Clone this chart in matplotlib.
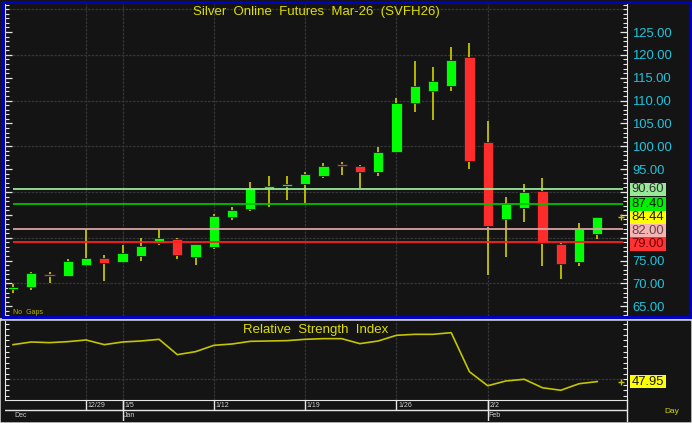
import numpy as np
import matplotlib.pyplot as plt
from matplotlib.patches import Rectangle
from matplotlib.ticker import MultipleLocator, FixedLocator, FuncFormatter

plt.rcParams['font.family'] = ['Liberation Sans', 'DejaVu Sans']

# session dates (one candle each)
dates = ["12/22", "12/23", "12/24", "12/26", "12/29", "12/31",
         "1/5", "1/6", "1/7", "1/8", "1/9",
         "1/12", "1/13", "1/14", "1/15", "1/16",
         "1/19", "1/20", "1/21", "1/22", "1/23",
         "1/26", "1/27", "1/28", "1/29", "1/30",
         "2/2", "2/3", "2/4", "2/5", "2/6",
         "2/9", "2/10"]
month_names = {12: "Dec", 1: "Jan", 2: "Feb"}
week_ticks = ["12/29", "1/5", "1/12", "1/19", "1/26", "2/2"]

opens = [68.7, 69.3, 72.1, 71.7, 74.1, 75.5, 74.7, 75.9, 78.8, 79.65, 75.8,
         78.0, 84.5, 86.3, 90.6, 91.4, 91.7, 93.5, 96.1, 95.6, 94.3,
         98.8, 109.5, 112.0, 113.2, 119.5, 101.0, 84.1, 86.5, 90.2, 78.6,
         74.7, 80.75]
highs = [69.8, 72.6, 72.5, 75.3, 81.9, 76.3, 78.4, 79.9, 82.0, 80.0, 78.7,
         85.2, 86.7, 92.3, 93.6, 93.5, 94.4, 96.3, 96.6, 96.0, 99.85,
         110.6, 118.7, 117.3, 121.8, 122.6, 105.6, 89.0, 91.75, 93.1, 78.8,
         83.3, 84.6]
lows = [68.0, 68.5, 70.1, 71.6, 73.8, 70.5, 74.5, 74.8, 78.5, 75.4, 74.0,
        77.5, 83.9, 85.8, 86.8, 88.25, 87.5, 93.1, 93.7, 90.9, 93.4,
        98.5, 107.4, 105.8, 112.2, 95.0, 71.9, 75.8, 83.5, 73.9, 70.9,
        73.9, 79.7]
closes = [69.2, 72.3, 71.6, 74.9, 75.5, 74.5, 76.6, 78.25, 79.9, 76.3, 78.6,
          84.7, 86.1, 90.8, 91.25, 91.7, 93.9, 95.8, 95.7, 94.3, 98.7,
          109.5, 113.2, 114.2, 118.9, 96.85, 82.5, 87.3, 90.0, 78.8, 74.3,
          81.9, 84.44]
rsi = [81.2, 83.6, 83.0, 83.9, 85.4, 81.2, 83.6, 84.5, 86.0, 72.2, 74.9,
       80.6, 81.8, 84.2, 84.5, 84.8, 86.0, 86.6, 86.6, 82.1, 84.5,
       89.6, 90.5, 90.5, 92.0, 56.8, 44.2, 48.5, 50.0, 42.4, 40.1,
       46.0, 47.95]

levels = [90.60, 87.40, 82.00, 79.00]
level_line_colors = ['#98e898', '#00c000', '#d8a4a4', '#ff2020']
level_box_colors = ['#98e898', '#00f000', '#f6b4b4', '#ff3333']
level_text_colors = ['#303030', '#002000', '#604848', '#700000']
price_ticks = [65, 70, 75, 80, 85, 90, 95, 100, 105, 110, 115, 120, 125]

W, H = 692, 423
BG = '#141414'
WICK = '#c4c400'


def px_box(x0, y0, x1, y1):
    return [x0 / W, 1 - y1 / H, (x1 - x0) / W, (y1 - y0) / H]


x = np.arange(len(dates))
week_idx = [dates.index(d) for d in week_ticks]
months = [int(d.split('/')[0]) for d in dates]
month_idx = [i for i in range(len(months)) if i == 0 or months[i] != months[i - 1]]
xlim = (-0.44, 33.63)

fig = plt.figure(figsize=(W / 100, H / 100), dpi=100, facecolor='#d0d0d0')
fig.add_artist(Rectangle((0, 1 - 317 / H), 1, 317 / H, transform=fig.transFigure,
                         color=BG, zorder=-2))
fig.add_artist(Rectangle((1 / W, 2 / H), 689 / W, (421 - 321) / H,
                         transform=fig.transFigure, color=BG, zorder=-2))

# ---------------- price panel ----------------
ax = fig.add_axes(px_box(5, 3.5, 627, 315.5))
ax.set_facecolor(BG)
ax.set_xlim(*xlim)
ax.set_ylim(62.98, 131.25)

for v in range(70, 131, 10):
    ax.axhline(v, color='#363636', lw=0.9, ls=(0, (2, 1)), zorder=0.5)
for i in week_idx:
    ax.axvline(i, color='#363636', lw=0.9, ls=(0, (2, 1)), zorder=0.5)

ax.vlines(x, lows, highs, color=WICK, lw=1.3, zorder=2)
body_cols = ['#00ff00' if c >= o else '#ff2c2c' for o, c in zip(opens, closes)]
heights = [max(abs(c - o), 0.35) for o, c in zip(opens, closes)]
bottoms = [min(o, c) for o, c in zip(opens, closes)]
ax.bar(x, heights, bottom=bottoms, width=0.56, color=body_cols,
       edgecolor='#1c1c1c', linewidth=0.6, zorder=3)

ax.hlines(levels, 0, 33.4, colors=level_line_colors, lw=1.3, zorder=4)

# price boxes on the right axis, stacked so they don't overlap
last_price = closes[-1]
box_items = [(lv, fc, tc) for lv, fc, tc in zip(levels, level_box_colors, level_text_colors)]
box_items.append((last_price, '#ffff00', '#181818'))
box_items.sort(key=lambda t: -t[0])
box_h = 2.91
prev = None
centers = []
trans = ax.get_yaxis_transform()
for val, fc, tc in box_items:
    yc = val if prev is None else min(val, prev - box_h)
    prev = yc
    centers.append(yc)
    ax.add_patch(Rectangle((1.0048, yc - box_h / 2), 0.0579, box_h, transform=trans,
                           facecolor=fc, edgecolor='none', clip_on=False, zorder=10))
    ax.text(1.0048 + 0.029, yc, f"{val:.2f}", transform=trans, ha='center', va='center',
            fontsize=9.4, color=tc, zorder=11, clip_on=False)
ax.plot([0.9904], [last_price], marker='+', ms=4, mew=1, color=WICK,
        transform=trans, clip_on=False, zorder=11)


def price_fmt(v, pos):
    # scale labels hidden behind the price boxes are left out
    if any(abs(v - c) < box_h for c in centers):
        return ''
    return f"{v:.2f}"


ax.yaxis.set_major_locator(FixedLocator(price_ticks))
ax.yaxis.set_minor_locator(MultipleLocator(1))
ax.yaxis.set_major_formatter(FuncFormatter(price_fmt))
ax.tick_params(axis='y', which='both', left=True, right=True, labelleft=False,
               labelright=True, direction='in', colors='#e6e6e6',
               labelcolor='#1ec4dc', labelsize=9.4, pad=3.6)
ax.tick_params(axis='y', which='major', length=5, width=0.9)
ax.tick_params(axis='y', which='minor', length=3, width=0.8)
ax.set_xticks([])
for s in ['left', 'right']:
    ax.spines[s].set_color('#e6e6e6')
ax.spines['top'].set_visible(False)
ax.spines['bottom'].set_color('#0000c0')

fig.text(316 / W, 1 - 11.5 / H, "Silver  Online  Futures  Mar-26  (SVFH26)",
         ha='center', va='center', color='#dede00', fontsize=9.5)
fig.text(13 / W, 1 - 312 / H, "No  Gaps", ha='left', va='center',
         color='#b4b400', fontsize=5)

# blue frame of price panel
fig.add_artist(Rectangle((2.5 / W, 1 - 317 / H), 687 / W, 315 / H,
                         transform=fig.transFigure, fill=False, edgecolor='#0000c0',
                         lw=2.2, zorder=5))

# ---------------- RSI panel ----------------
ax2 = fig.add_axes(px_box(5, 321, 627, 400))
ax2.set_facecolor(BG)
ax2.set_xlim(*xlim)
ax2.set_ylim(31.35, 102.5)
ax2.axhline(50, color='#363636', lw=0.9, ls=(0, (2, 1)), zorder=0.5)
for i in week_idx:
    ax2.axvline(i, color='#363636', lw=0.9, ls=(0, (2, 1)), zorder=0.5)
ax2.plot(x, rsi, color=WICK, lw=1.2, zorder=3)
ax2.yaxis.set_major_locator(MultipleLocator(5))
ax2.tick_params(axis='y', which='both', left=True, right=True, labelleft=False,
                labelright=False, direction='in', colors='#e6e6e6', length=3, width=0.8)
ax2.set_xticks([])
ax2.spines['top'].set_visible(False)
for s in ['left', 'right', 'bottom']:
    ax2.spines[s].set_color('#e6e6e6')

t2 = ax2.get_yaxis_transform()
ax2.add_patch(Rectangle((1.0048, rsi[-1] - 5.5), 0.0579, 11.0, transform=t2,
                        facecolor='#ffff00', edgecolor='none', clip_on=False, zorder=10))
ax2.text(1.0048 + 0.029, rsi[-1], f"{rsi[-1]:.2f}", transform=t2, ha='center',
         va='center', fontsize=9.4, color='#181818', zorder=11, clip_on=False)
ax2.plot([0.9904], [rsi[-1]], marker='+', ms=4, mew=1, color=WICK,
         transform=t2, clip_on=False, zorder=11)
fig.text(316 / W, 1 - 330.5 / H, "Relative  Strength  Index", ha='center',
         va='center', color='#dede00', fontsize=9.5)

# ---------------- date strip ----------------
ax3 = fig.add_axes(px_box(5, 400, 627, 421))
ax3.set_facecolor(BG)
ax3.set_xlim(*xlim)
ax3.set_ylim(0, 1)
ax3.axis('off')
mid = 11 / 21
ax3.axhline(mid, color='#e6e6e6', lw=1)
ax3.vlines(week_idx, mid, 1, color='#e6e6e6', lw=1)
ax3.vlines(month_idx[1:], 0, 1, color='#e6e6e6', lw=1)
ax3.plot([1, 1], [0, 1], color='#e6e6e6', lw=1, transform=ax3.transAxes, clip_on=False)
for i, lab in zip(week_idx, week_ticks):
    ax3.text(i + 0.1, 0.72, lab, ha='left', va='center', fontsize=5, color='#d0d0d0')
for i in month_idx:
    ax3.text(i + 0.06, 0.24, month_names[months[i]], ha='left', va='center',
             fontsize=5, color='#d0d0d0')
fig.text(664 / W, 1 - 411.5 / H, "Day", ha='left', va='center', color='#d4d400', fontsize=6)

fig.savefig('out.png', dpi=100, facecolor=fig.get_facecolor())
